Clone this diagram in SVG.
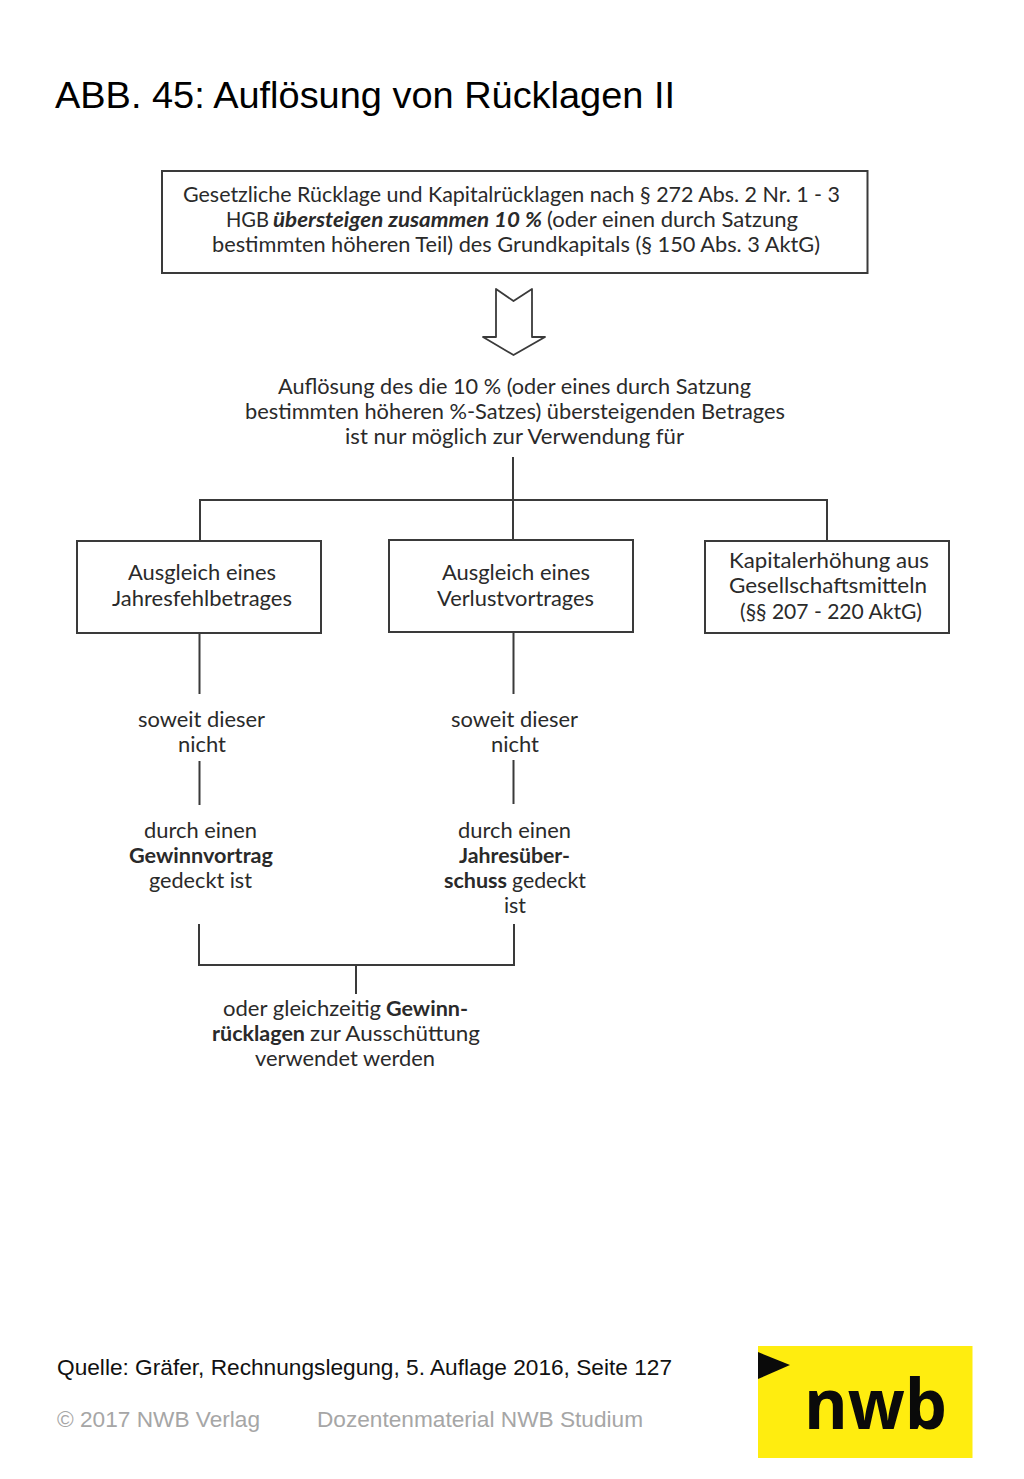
<svg xmlns="http://www.w3.org/2000/svg" width="1024" height="1479" viewBox="0 0 1024 1479">
<style>
text{font-family:"Lato","Liberation Sans",sans-serif;font-size:21px;fill:#2a2a2a}
.h{font-family:"Liberation Sans",Arial,sans-serif;font-size:37px;fill:#000}
.q{font-family:"Liberation Sans",Arial,sans-serif;font-size:22px;fill:#111}
.g{font-family:"Liberation Sans",Arial,sans-serif;font-size:22px;fill:#a6a6a6}
.b{font-weight:700}
.bi{font-weight:700;font-style:italic}
.box{fill:#fff;stroke:#3a3a3a;stroke-width:2}
.c{fill:none;stroke:#3a3a3a;stroke-width:2}
</style>
<rect width="1024" height="1479" fill="#fff"/>
<text id="title" class="h" x="55" y="108" textLength="620" lengthAdjust="spacingAndGlyphs">ABB. 45: Auflösung von Rücklagen II</text>
<g id="connectors">
<path class="c" d="M513 457V540M200 540V500H827V540"/>
<path class="c" d="M199.500 633V694M199.500 761V805M513.500 632V694M513.500 760V804"/>
<path class="c" d="M199 924V965H514V924M356 965V994"/>
</g>
<g id="top-box">
<rect class="box" x="162" y="171" width="705.500" height="102"/>
<text x="183" y="202" textLength="657" lengthAdjust="spacingAndGlyphs">Gesetzliche Rücklage und Kapitalrücklagen nach § 272 Abs. 2 Nr. 1 - 3</text>
<text x="226" y="227" textLength="43" lengthAdjust="spacingAndGlyphs">HGB</text>
<text class="bi" x="273" y="227" textLength="269" lengthAdjust="spacingAndGlyphs">übersteigen zusammen 10 %</text>
<text x="547" y="227" textLength="251" lengthAdjust="spacingAndGlyphs">(oder einen durch Satzung</text>
<text x="212" y="252" textLength="608" lengthAdjust="spacingAndGlyphs">bestimmten höheren Teil) des Grundkapitals (§ 150 Abs. 3 AktG)</text>
</g>
<g id="down-arrow">
<path d="M496 289L513.500 301L532 289V337H545L513.500 355L483 337H496Z" fill="#fff" stroke="#3a3a3a" stroke-width="1.800" stroke-linejoin="round"/>
</g>
<g id="release-text">
<text x="278" y="394" textLength="473" lengthAdjust="spacingAndGlyphs">Auflösung des die 10 % (oder eines durch Satzung</text>
<text x="245" y="419" textLength="540" lengthAdjust="spacingAndGlyphs">bestimmten höheren %-Satzes) übersteigenden Betrages</text>
<text x="345" y="444" textLength="339" lengthAdjust="spacingAndGlyphs">ist nur möglich zur Verwendung für</text>
</g>
<g id="box-jahresfehlbetrag">
<rect class="box" x="77" y="541" width="244" height="92"/>
<text x="128" y="580" textLength="148" lengthAdjust="spacingAndGlyphs">Ausgleich eines</text>
<text x="112" y="606" textLength="180" lengthAdjust="spacingAndGlyphs">Jahresfehlbetrages</text>
</g>
<g id="box-verlustvortrag">
<rect class="box" x="389" y="540" width="244" height="92"/>
<text x="442" y="580" textLength="148" lengthAdjust="spacingAndGlyphs">Ausgleich eines</text>
<text x="437" y="606" textLength="157" lengthAdjust="spacingAndGlyphs">Verlustvortrages</text>
</g>
<g id="box-kapitalerhoehung">
<rect class="box" x="705" y="541" width="244" height="92"/>
<text x="729" y="568" textLength="200" lengthAdjust="spacingAndGlyphs">Kapitalerhöhung aus</text>
<text x="729" y="593" textLength="198" lengthAdjust="spacingAndGlyphs">Gesellschaftsmitteln</text>
<text x="740" y="619" textLength="182" lengthAdjust="spacingAndGlyphs">(§§ 207 - 220 AktG)</text>
</g>
<g id="label-soweit-1">
<text x="138" y="727" textLength="127" lengthAdjust="spacingAndGlyphs">soweit dieser</text>
<text x="178" y="752" textLength="48" lengthAdjust="spacingAndGlyphs">nicht</text>
</g>
<g id="label-soweit-2">
<text x="451" y="727" textLength="127" lengthAdjust="spacingAndGlyphs">soweit dieser</text>
<text x="491" y="752" textLength="48" lengthAdjust="spacingAndGlyphs">nicht</text>
</g>
<g id="label-gewinnvortrag">
<text x="144" y="838" textLength="113" lengthAdjust="spacingAndGlyphs">durch einen</text>
<text class="b" x="129" y="863" textLength="144" lengthAdjust="spacingAndGlyphs">Gewinnvortrag</text>
<text x="149" y="888" textLength="103" lengthAdjust="spacingAndGlyphs">gedeckt ist</text>
</g>
<g id="label-jahresueberschuss">
<text x="458" y="838" textLength="113" lengthAdjust="spacingAndGlyphs">durch einen</text>
<text class="b" x="459" y="863" textLength="111" lengthAdjust="spacingAndGlyphs">Jahresüber-</text>
<text class="b" x="444" y="888" textLength="63" lengthAdjust="spacingAndGlyphs">schuss</text>
<text x="512" y="888" textLength="74" lengthAdjust="spacingAndGlyphs">gedeckt</text>
<text x="504" y="913" textLength="22" lengthAdjust="spacingAndGlyphs">ist</text>
</g>
<g id="label-gewinnruecklagen">
<text x="223" y="1016" textLength="158" lengthAdjust="spacingAndGlyphs">oder gleichzeitig</text>
<text class="b" x="386" y="1016" textLength="82" lengthAdjust="spacingAndGlyphs">Gewinn-</text>
<text class="b" x="212" y="1041" textLength="93" lengthAdjust="spacingAndGlyphs">rücklagen</text>
<text x="310" y="1041" textLength="170" lengthAdjust="spacingAndGlyphs">zur Ausschüttung</text>
<text x="255" y="1066" textLength="180" lengthAdjust="spacingAndGlyphs">verwendet werden</text>
</g>
<text id="source" class="q" x="57" y="1375" textLength="615" lengthAdjust="spacingAndGlyphs">Quelle: Gräfer, Rechnungslegung, 5. Auflage 2016, Seite 127</text>
<text id="copyright" class="g" x="57" y="1427" textLength="203" lengthAdjust="spacingAndGlyphs">© 2017 NWB Verlag</text>
<text id="material" class="g" x="317" y="1427" textLength="326" lengthAdjust="spacingAndGlyphs">Dozentenmaterial NWB Studium</text>
<g id="logo">
<rect x="758" y="1346" width="214.500" height="112" fill="#ffed0f"/>
<path d="M758 1352L790 1365L758 1379Z" fill="#0a0a0a"/>
<text x="804" y="1429" textLength="143" lengthAdjust="spacingAndGlyphs" style="font-family:'Open Sans',sans-serif;font-size:70px;font-weight:700;fill:#0a0a0a">nwb</text>
</g>
</svg>
